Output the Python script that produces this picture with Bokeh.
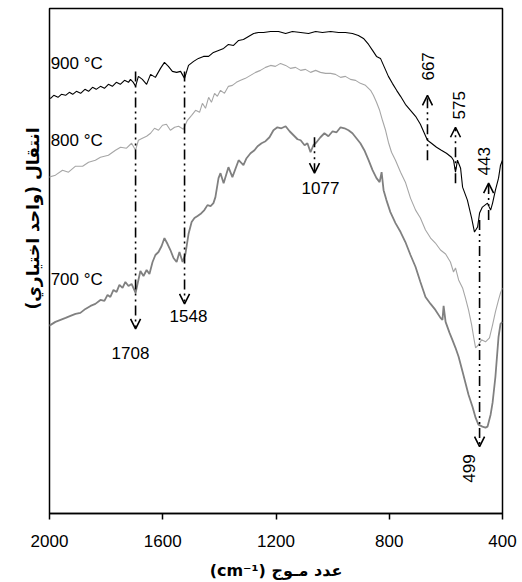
import math
from bokeh.plotting import figure
from bokeh.models import Range1d, FixedTicker, Arrow, OpenHead, Label, Title
from bokeh.embed import file_html
from bokeh.resources import INLINE

# FTIR spectra (arbitrary transmittance units)
wn_900 = [2014, 1996, 1985, 1970, 1958, 1943, 1930, 1918, 1905, 1890, 1875, 1862, 1848, 1835, 1820, 1806,
          1792, 1778, 1764, 1750, 1735, 1721, 1714, 1704, 1696, 1686, 1672, 1657, 1643, 1626, 1608, 1594,
          1580, 1566, 1551, 1537, 1523, 1509, 1491, 1474, 1456, 1438, 1421, 1403, 1385, 1368, 1350, 1332,
          1315, 1297, 1279, 1262, 1244, 1219, 1191, 1166, 1142, 1113, 1085, 1060, 1036, 1007, 979, 955,
          930, 909, 891, 873, 859, 845, 831, 817, 803, 789, 774, 760, 743, 725, 707, 690, 676, 665, 651,
          633, 616, 598, 580, 573, 566, 559, 548, 541, 524, 509, 499, 488, 481, 471, 453, 442, 435, 425,
          414, 407, 400]
t_900 = [417, 416, 419, 417, 420, 419, 422, 420, 423, 421, 425, 423, 427, 425, 428, 426,
         430, 428, 432, 430, 434, 432, 435, 432, 428, 438, 435, 430, 440, 437, 446, 452,
         448, 443, 442, 443, 436, 449, 453, 456, 458, 458, 462, 464, 466, 470, 469, 474,
         475, 478, 481, 482, 482, 483, 483, 481, 483, 482, 481, 483, 482, 483, 482, 482,
         481, 479, 476, 470, 464, 458, 456, 447, 438, 431, 424, 418, 410, 404, 398, 390, 381, 374, 371,
         367, 364, 361, 357, 354, 342, 354, 346, 327, 314, 296, 282, 287, 301, 307, 311, 304, 311, 324,
         336, 349, 354]

wn_800 = [2014, 1979, 1954, 1933, 1908, 1883, 1862, 1838, 1820, 1792, 1767, 1749, 1728, 1710, 1696, 1686,
          1672, 1657, 1643, 1629, 1615, 1601, 1587, 1573, 1558, 1544, 1527, 1513, 1498, 1484, 1470, 1460,
          1449, 1438, 1428, 1417, 1407, 1396, 1382, 1368, 1354, 1340, 1325, 1308, 1290, 1272, 1255, 1237,
          1219, 1202, 1184, 1166, 1149, 1131, 1113, 1096, 1078, 1060, 1043, 1025, 1007, 990, 972, 955,
          937, 919, 902, 884, 866, 856, 845, 834, 824, 813, 803, 792, 778, 760, 743, 725, 707, 690, 672,
          654, 637, 619, 601, 584, 573, 566, 555, 541, 531, 520, 509, 502, 495, 485, 474, 460, 446, 435,
          425, 414, 407, 400]
t_800 = [336, 339, 344, 342, 348, 348, 352, 354, 357, 359, 364, 367, 366, 371, 364, 374,
         376, 378, 381, 386, 384, 389, 390, 384, 387, 388, 385, 394, 399, 404, 402, 411,
         406, 417, 412, 421, 418, 424, 421, 428, 429, 432, 434, 436, 439, 442, 444, 447,
         449, 448, 451, 449, 446, 447, 444, 445, 442, 444, 442, 441, 441, 440, 437, 438,
         435, 434, 431, 429, 424, 419, 412, 404, 394, 384, 372, 362, 354, 342, 332, 316, 304, 296, 284,
         276, 271, 264, 260, 252, 242, 246, 234, 226, 216, 204, 189, 177, 166, 169, 174, 172, 176, 189,
         202, 214, 221, 226]

wn_700 = [2014, 1996, 1979, 1961, 1943, 1926, 1908, 1891, 1873, 1855, 1838, 1820, 1806, 1795, 1785, 1774,
          1763, 1753, 1742, 1732, 1721, 1710, 1696, 1686, 1679, 1668, 1657, 1647, 1636, 1626, 1615, 1604,
          1594, 1583, 1573, 1562, 1551, 1541, 1530, 1520, 1509, 1498, 1488, 1477, 1467, 1453, 1442, 1431,
          1421, 1414, 1403, 1396, 1385, 1368, 1354, 1332, 1315, 1304, 1290, 1276, 1265, 1251, 1237, 1223,
          1209, 1195, 1181, 1166, 1152, 1138, 1124, 1113, 1099, 1089, 1078, 1068, 1057, 1043, 1029, 1015,
          1000, 986, 972, 958, 944, 930, 916, 902, 888, 873, 859, 845, 834, 827, 820, 810, 796, 778, 760,
          743, 725, 707, 690, 672, 654, 637, 619, 612, 608, 601, 587, 577, 566, 555, 541, 531, 520, 506,
          495, 485, 471, 460, 453, 442, 435, 425, 414, 407, 400]
t_700 = [187, 189, 192, 194, 196, 198, 200, 201, 205, 208, 210, 214, 213, 219, 217, 224,
         222, 229, 226, 232, 228, 230, 221, 234, 243, 238, 244, 240, 252, 259, 262, 268,
         276, 270, 264, 256, 252, 262, 252, 260, 280, 292, 296, 298, 300, 304, 309, 308,
         311, 317, 336, 341, 331, 347, 337, 354, 349, 356, 361, 364, 368, 371, 373, 377,
         384, 387, 386, 388, 383, 379, 375, 374, 369, 371, 362, 369, 372, 377, 381, 378,
         383, 382, 387, 386, 384, 381, 376, 371, 364, 354, 344, 336, 332, 342, 324, 314, 302, 291, 282,
         272, 259, 247, 232, 217, 210, 204, 196, 194, 208, 192, 181, 174, 166, 157, 142, 131, 119, 107,
         96, 89, 87, 86, 87, 99, 111, 137, 177, 190, 192]

# curve labels
temp_labels = ["900 °C", "800 °C", "700 °C"]
temp_label_wn = [1996, 1996, 1996]
temp_label_t = [451, 374, 234]

# band markers
band_labels = ["1708", "1548", "1077", "667", "575", "443", "499"]
band_wn = [1696, 1523, 1064, 665, 566, 449, 481]
band_from = [443, 443, 377, 354, 331, 294, 294]
band_to = [185, 210, 341, 419, 387, 331, 67]
band_label_wn = [1714, 1509, 1043, 662, 555, 467, 519]
band_label_t = [161, 198, 326, 448, 409, 353, 45]
band_label_angle = [0, 0, 0, 90, 90, 90, 90]

x_ticks = [2000, 1600, 1200, 800, 400]

FONT = "Liberation Sans"
AR_FONT = "DejaVu Sans"

p = figure(width=522, height=582, output_backend="svg", toolbar_location=None,
           x_range=Range1d(2000, 400), y_range=Range1d(0, 506),
           min_border_left=49, min_border_right=20, min_border_top=8, min_border_bottom=68)
p.background_fill_color = "white"
p.border_fill_color = "white"
p.xgrid.visible = False
p.ygrid.visible = False
p.yaxis.visible = False
p.outline_line_color = "black"
p.outline_line_width = 1.5
p.outline_line_alpha = 1.0

ax = p.xaxis[0]
ax.ticker = FixedTicker(ticks=x_ticks)
ax.major_tick_out = 6
ax.major_tick_in = 0
ax.minor_tick_line_color = None
ax.axis_line_width = 1.5
ax.major_tick_line_width = 1.5
ax.major_label_text_font = FONT
ax.major_label_text_font_size = "17px"
ax.major_label_text_color = "black"
ax.major_label_standoff = 15
ax.axis_label = "\u202Bعدد مـوج (cm⁻¹)\u202C"
ax.axis_label_text_font = AR_FONT
ax.axis_label_text_font_style = "bold"
ax.axis_label_text_font_size = "16px"
ax.axis_label_text_color = "black"
ax.axis_label_standoff = 11

p.line(wn_900, t_900, line_color="black", line_width=1.1)
p.line(wn_800, t_800, line_color="#a6a6a6", line_width=1.1)
p.line(wn_700, t_700, line_color="#808080", line_width=1.8)

for txt, xw, yt in zip(temp_labels, temp_label_wn, temp_label_t):
    p.add_layout(Label(x=xw, y=yt, text=txt, text_font=FONT, text_font_size="17px",
                       text_align="left", text_baseline="middle", text_color="black"))

for xw, y0, y1 in zip(band_wn, band_from, band_to):
    p.add_layout(Arrow(x_start=xw, y_start=y0, x_end=xw, y_end=y1,
                       line_color="black", line_width=1.6, line_dash="10 4 2 4 2 4",
                       end=OpenHead(size=10, line_color="black", line_width=1.6)))

for txt, xw, yt, ang in zip(band_labels, band_label_wn, band_label_t, band_label_angle):
    p.add_layout(Label(x=xw, y=yt, text=txt, angle=math.radians(ang), text_font=FONT,
                       text_font_size="17px", text_align="center", text_baseline="middle",
                       text_color="black"))

# y-axis title (arbitrary units)
ytitle = Title(text="انتقال (واحد اختیاري)\u200F", align="left", offset=204, standoff=14,
               text_font=AR_FONT, text_font_style="bold", text_font_size="17px",
               text_color="black")
p.add_layout(ytitle, "left")

open("out.html", "w").write(file_html(p, INLINE))
